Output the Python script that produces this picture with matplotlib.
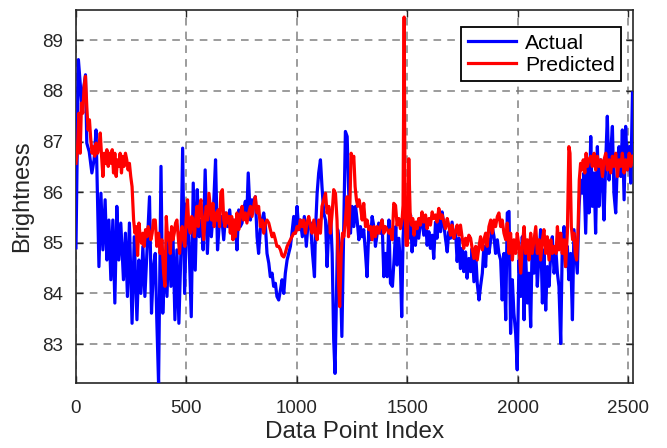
import matplotlib
matplotlib.use("Agg")
import matplotlib.pyplot as plt

# ---------------- data ----------------
actual_idx = [0, 11, 26, 43, 49, 60, 72, 82, 91, 98, 104, 113, 122, 132, 140, 149, 158, 167, 176, 185,
              194, 203, 215, 224, 233, 242, 254, 264, 276, 285, 294, 303, 312, 321, 333, 342, 351,
              359, 366, 374, 385, 393, 403, 412, 421, 430, 439, 448, 457, 466, 475, 483, 492, 502, 511,
              522, 531, 540, 549, 558, 567, 576, 585, 595, 604, 613, 623, 632, 641, 650, 660, 669, 678,
              687, 696, 705, 714,
              722, 729, 737, 744, 752, 759, 767, 774, 780, 790, 797, 805, 812, 820, 827, 835, 843, 850,
              858, 865, 873, 880, 888, 895, 903, 910, 918, 926, 933, 941, 948, 956, 963, 971, 978, 986,
              994, 1001, 1009, 1016, 1025, 1034, 1043, 1052, 1062, 1071, 1080,
              1084, 1092, 1099, 1107, 1114, 1122, 1130, 1137, 1145, 1152, 1160, 1167, 1173, 1179, 1185,
              1194, 1204, 1213, 1220, 1228, 1234, 1243, 1250, 1258, 1266, 1273, 1281, 1288, 1296, 1303,
              1311, 1318, 1326, 1334, 1341, 1349, 1356, 1364, 1371, 1379, 1386, 1394, 1401, 1409, 1417,
              1424, 1433, 1442, 1448,
              1454, 1462, 1469, 1475, 1481, 1487, 1493, 1499, 1507, 1515, 1522, 1530, 1537, 1545, 1552,
              1560, 1567, 1575, 1583, 1590, 1598, 1605, 1613, 1620, 1628, 1635, 1643, 1651, 1658, 1666,
              1673, 1681, 1688, 1696, 1703, 1711, 1719, 1726, 1734, 1741, 1749, 1756, 1764, 1771, 1779,
              1787, 1794, 1802,
              1810, 1817, 1825, 1832, 1840, 1847, 1855, 1862, 1870, 1878, 1885, 1893, 1900, 1908, 1915,
              1923, 1930, 1938, 1946, 1953, 1961, 1968, 1976, 1983, 1991, 1998, 2006, 2014, 2021, 2029,
              2036, 2044, 2051, 2059, 2066, 2074, 2082, 2089, 2097, 2104, 2112, 2119, 2127, 2134, 2142,
              2150, 2157, 2165, 2174,
              2180, 2187, 2195, 2202, 2210, 2217, 2225, 2232, 2240, 2248, 2255, 2263, 2270, 2278, 2285,
              2293, 2300, 2308, 2316, 2323, 2331, 2338, 2346, 2353, 2361, 2368, 2376, 2384, 2391, 2399,
              2406, 2414, 2421, 2429, 2436, 2444, 2452, 2459, 2467, 2474, 2482, 2489, 2497, 2505, 2512,
              2520]
actual_val = [84.90, 88.62, 87.76, 88.32, 86.97, 86.80, 86.38, 86.64, 87.23, 85.72, 84.53, 85.98, 84.86, 85.85,
              84.66, 85.45, 84.27, 85.45, 83.81, 85.72, 84.66, 85.39, 84.27, 85.19, 83.94, 85.39, 83.41,
              85.12, 83.48, 84.66, 84.00, 84.93, 83.94, 84.79, 85.91, 83.61, 84.53,
              84.79, 83.48, 82.22, 86.51, 83.61, 84.79, 83.94, 85.19, 84.14, 85.19, 83.48, 84.86, 83.41,
              84.79, 86.87, 84.00, 85.78, 85.12, 83.54, 86.18, 84.46, 86.05, 85.12, 85.45, 84.86, 86.44,
              84.79, 85.72, 85.12, 85.72, 86.64, 84.86, 85.45, 85.52, 85.06, 85.59, 85.32, 85.65, 85.19,
              85.45,
              85.32, 84.86, 85.65, 85.32, 85.39, 85.65, 85.82, 85.59, 86.38, 85.45, 85.85, 85.72, 85.91,
              85.12, 84.79, 85.26, 85.45, 85.59, 85.32, 84.79, 84.60, 84.33, 84.40, 84.14, 84.20, 83.94,
              83.87, 84.07, 84.27, 84.00, 84.40, 84.66, 84.79, 84.93, 85.19, 85.52, 85.19, 85.72, 85.26,
              85.45, 85.12, 85.52, 84.93, 85.45, 85.39, 84.79, 84.33,
              85.19, 85.98, 86.38, 86.64, 86.11, 85.59, 85.45, 84.53, 85.32, 85.65, 84.79, 83.08, 82.42,
              83.81, 85.26, 84.93, 83.15, 85.45, 87.20, 87.10, 86.11, 85.19, 85.72, 85.32, 85.72, 85.45,
              85.06, 85.32, 85.12, 85.26, 84.79, 84.33, 85.26, 85.06, 85.52, 85.32, 84.93, 85.19, 85.39,
              85.19, 85.45, 84.33, 84.79, 84.33, 85.45, 84.20, 84.14, 84.79, 85.32,
              84.56, 85.09, 84.56, 83.54, 85.09, 85.61, 85.41, 85.61, 85.09, 85.55, 84.82, 85.35, 84.95,
              85.41, 85.09, 85.41, 85.48, 85.15, 85.48, 84.95, 85.22, 84.89, 85.15, 84.69, 85.41, 85.09,
              85.48, 85.22, 85.61, 85.35, 85.09, 84.82, 85.22, 85.09, 85.41, 85.09, 85.22, 84.63, 85.09,
              84.49, 84.89, 84.43, 84.82, 84.30, 84.69, 84.43, 84.89, 84.23,
              84.79, 84.20, 83.87, 84.14, 84.40, 84.93, 84.53, 85.19, 84.79, 85.06, 85.32, 85.12, 84.79,
              85.06, 84.79, 84.66, 83.87, 84.79, 83.48, 85.59, 85.62, 83.21, 84.27, 83.61, 83.21, 82.49,
              84.66, 83.94, 85.12, 83.48, 84.79, 83.81, 84.40, 83.34, 85.06, 84.40, 85.06, 84.14, 84.79,
              85.26, 83.81, 84.86, 83.67, 84.53, 84.14, 84.79, 85.12, 84.40, 84.79,
              84.40, 84.14, 83.01, 84.93, 85.32, 84.53, 84.93, 84.27, 84.79, 83.48, 85.26, 84.79, 84.40,
              85.72, 86.24, 85.98, 86.38, 85.19, 86.64, 85.59, 87.10, 85.72, 86.38, 85.19, 86.90, 85.72,
              86.64, 86.11, 85.45, 86.64, 87.50, 86.24, 86.77, 87.30, 85.98, 85.59, 86.64, 86.90, 86.31,
              87.23, 85.85, 87.30, 86.44, 86.90, 86.18, 87.96]

pred_idx = [0, 7, 13, 19, 25, 31, 37, 43, 49, 55, 61, 67, 73, 79, 85, 91, 98, 104, 110, 116, 122, 128,
            134, 140, 146, 152, 158, 164, 170, 176, 182, 188, 194, 200, 206, 212, 218, 224, 230, 236,
            242, 248, 254, 261, 267, 273, 279, 285, 291, 297, 303, 309, 315, 321, 327, 333, 339, 345, 351,
            359, 366, 374, 381, 389, 397, 403, 409, 415, 421, 427, 433, 439, 445, 451, 457, 463, 469, 475,
            481, 487, 493, 499, 505, 511, 518, 524, 530, 536, 542, 548, 554, 560, 566, 572, 578, 584, 590,
            596, 602, 608, 614, 620, 626, 632, 638, 644, 650, 656, 663, 669, 675, 681, 687, 693, 699, 705,
            711,
            717, 722, 729, 737, 744, 752, 759, 767, 774, 782, 790, 797, 805, 812, 820, 827, 835, 843, 850,
            858, 865, 873, 880, 888, 895, 903, 910, 918, 926, 933, 941, 948, 956, 963, 971, 978, 986, 994,
            1001, 1009, 1016, 1024, 1031, 1039, 1046, 1054, 1062, 1069, 1077,
            1084, 1092, 1099, 1107, 1114, 1122, 1130, 1137, 1145, 1152, 1160, 1167, 1175, 1182, 1190, 1194,
            1201, 1207, 1213, 1220, 1228, 1234, 1240, 1246, 1252, 1258, 1264, 1270, 1276, 1282, 1288, 1296,
            1303, 1311, 1318, 1326, 1334, 1341, 1349, 1356, 1364, 1371, 1379, 1386, 1394, 1401, 1409, 1417,
            1424, 1432, 1439,
            1447, 1454, 1462, 1469, 1477, 1481, 1486, 1490, 1495, 1501, 1507, 1513, 1519, 1525, 1531, 1537,
            1545, 1552, 1560, 1567, 1575, 1583, 1590, 1598, 1605, 1613, 1620, 1628, 1635, 1643, 1651, 1658,
            1666, 1673, 1681, 1688, 1696, 1703, 1711, 1719, 1726, 1734, 1741, 1749, 1756, 1764, 1771, 1779,
            1787, 1794, 1802,
            1810, 1817, 1825, 1832, 1840, 1847, 1855, 1862, 1870, 1878, 1885, 1893, 1900, 1908, 1915, 1923,
            1930, 1938, 1946, 1953, 1961, 1968, 1976, 1983, 1991, 1998, 2006, 2014, 2021, 2029, 2036, 2044,
            2051, 2059, 2066, 2074, 2082, 2089, 2097, 2104, 2112, 2119, 2127, 2134, 2142, 2150, 2157, 2165,
            2174,
            2180, 2187, 2195, 2202, 2210, 2217, 2225, 2232, 2237, 2243, 2249, 2255, 2261, 2267, 2273, 2279,
            2285, 2291, 2297, 2304, 2310, 2316, 2323, 2331, 2338, 2346, 2353, 2361, 2368, 2376, 2384, 2391,
            2399, 2406, 2414, 2421, 2429, 2436, 2444, 2452, 2459, 2467, 2474, 2482, 2489, 2497, 2505, 2512,
            2520]
pred_val = [86.57, 86.84, 87.56, 86.77, 87.76, 87.56, 88.09, 88.29, 87.69, 87.23, 87.43, 87.04, 86.77, 86.90,
            86.71, 86.97, 86.77, 86.90, 87.17, 86.71, 86.31, 86.77, 86.57, 86.84, 86.51, 86.77, 86.57,
            86.84, 86.38, 86.77, 86.31, 86.64, 86.51, 86.77, 86.38, 86.71, 86.51, 86.77, 86.64, 86.44,
            86.57, 86.31, 86.11, 85.45, 85.19, 85.32, 84.75, 85.39, 85.12, 84.99, 85.19, 84.93, 85.26,
            85.12, 85.32, 85.19, 85.06, 85.19, 85.45,
            85.45, 84.93, 85.19, 84.79, 85.06, 84.40, 84.14, 85.52, 85.06, 85.19, 84.79, 85.32, 85.06,
            85.19, 85.39, 85.45, 85.12, 84.79, 85.19, 85.32, 85.06, 84.93, 85.45, 85.85, 85.32, 85.19,
            85.52, 85.45, 85.12, 85.45, 85.72, 85.32, 85.72, 85.85, 85.45, 85.06, 85.45, 85.72, 85.45,
            85.98, 85.72, 85.45, 85.78, 85.32, 85.59, 85.45, 85.65, 85.32, 85.98, 86.05, 85.45, 85.32,
            85.59, 85.39, 85.52, 85.19, 85.52, 85.06,
            85.45, 85.12, 85.59, 85.26, 85.52, 85.72, 85.45, 85.59, 85.39, 85.59, 85.72, 85.52, 85.72,
            85.91, 85.59, 85.72, 85.32, 85.45, 85.19, 85.39, 85.45, 85.39, 85.26, 85.12, 85.19, 85.06,
            84.93, 84.93, 84.86, 84.75, 84.72, 84.80, 84.93, 84.99, 85.06, 85.12, 85.19, 85.19, 85.32,
            85.26, 85.45, 85.32, 85.45, 85.19, 85.39, 85.52, 85.32, 85.19, 85.45,
            85.19, 85.06, 85.45, 85.19, 85.72, 85.85, 85.98, 85.59, 85.72, 85.19, 85.59, 86.05, 85.98,
            85.45, 84.14, 83.74, 84.79, 85.19, 85.12, 85.45, 85.91, 85.12, 85.72, 86.77, 86.64, 86.71,
            86.11, 85.85, 85.72, 85.85, 85.72, 85.45, 85.78, 85.32, 85.45, 85.26, 85.32, 85.06, 85.32,
            85.12, 85.32, 85.19, 85.32, 85.45, 85.19, 85.32, 85.26, 85.19, 85.26, 85.06, 85.78,
            85.74, 85.35, 85.48, 85.28, 85.48, 85.74, 89.46, 85.74, 84.95, 84.95, 86.66, 85.61, 85.35,
            85.48, 85.15, 85.41, 85.28, 85.48, 85.35, 85.61, 85.41, 85.55, 85.28, 85.48, 85.35, 85.61,
            85.48, 85.55, 85.41, 85.68, 85.48, 85.55, 85.41, 85.28, 85.48, 85.35, 85.15, 85.35, 85.09,
            85.22, 85.35, 85.15, 85.35, 85.09, 84.89, 85.09, 84.95, 85.15, 85.09, 84.89, 84.69,
            84.93, 84.66, 84.93, 85.12, 84.86, 85.06, 85.19, 84.93, 85.32, 85.45, 85.19, 85.45, 85.32,
            85.52, 85.59, 85.32, 85.45, 85.19, 85.06, 85.39, 84.79, 85.19, 84.66, 85.06, 84.79, 85.19,
            84.93, 84.40, 84.93, 85.32, 84.79, 85.06, 84.66, 85.19, 84.79, 85.06, 85.32, 84.79, 85.06,
            84.66, 85.06, 85.26, 84.79, 85.12, 84.66, 85.06, 84.79, 84.93, 84.79,
            85.32, 84.86, 85.19, 84.79, 85.06, 84.53, 85.19, 86.90, 86.77, 85.32, 85.06, 85.19, 84.79,
            84.66, 85.19, 86.24, 86.57, 86.44, 86.64, 86.38, 86.77, 86.51, 86.64, 86.71, 86.51, 86.77,
            86.44, 86.71, 86.51, 86.64, 86.31, 86.64, 86.77, 86.44, 86.64, 86.38, 86.71, 86.51, 86.77,
            86.31, 86.64, 86.51, 86.77, 86.38, 86.64, 86.44, 86.77, 86.51, 86.71]

series_labels = ["Actual", "Predicted"]
x_ticks = [0, 500, 1000, 1500, 2000, 2500]
y_ticks = [83, 84, 85, 86, 87, 88, 89]

# ---------------- plot ----------------
plt.rcParams['font.family'] = ['Liberation Sans', 'DejaVu Sans']
dark = (0.15, 0.15, 0.15)

fig = plt.figure(figsize=(6.67, 4.48), dpi=100)
ax = fig.add_axes([0.1139, 0.1451, 0.8347, 0.8326])

ax.plot(actual_idx, actual_val, color=(0, 0, 1), lw=2.3, label=series_labels[0], zorder=3)
ax.plot(pred_idx, pred_val, color=(1, 0, 0), lw=2.3, label=series_labels[1], zorder=4)

ax.set_xlim(0, 2521)
ax.set_ylim(82.23, 89.6)
ax.set_xticks(x_ticks)
ax.set_yticks(y_ticks)

ax.grid(True, color=(0.45, 0.45, 0.45), linestyle=(0, (5, 4)), linewidth=1.1, alpha=0.9)
ax.set_axisbelow(True)

ax.tick_params(direction='in', length=5, width=1, colors=dark, labelsize=13.5,
               top=True, right=True)
ax.tick_params(axis='x', pad=12)
ax.tick_params(axis='y', pad=9)
for s in ax.spines.values():
    s.set_color(dark)
    s.set_linewidth(1.2)

ax.set_xlabel("Data Point Index", fontsize=17.5, color=dark, labelpad=3)
ax.set_ylabel("Brightness", fontsize=17, color=dark, labelpad=7)

leg = ax.legend(loc='upper right', bbox_to_anchor=(0.979, 0.954), fontsize=15.3,
                frameon=True, fancybox=False, edgecolor='black', framealpha=1,
                handlelength=2.3, borderaxespad=0.0, borderpad=0.3, labelspacing=0.15,
                handletextpad=0.4)
leg.get_frame().set_linewidth(1.3)

fig.savefig("out.png", dpi=100)
